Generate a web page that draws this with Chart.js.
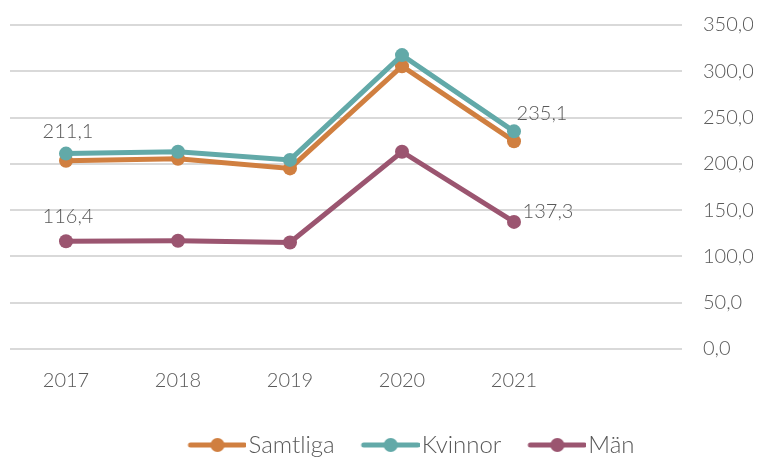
<!DOCTYPE html>
<html><head><meta charset="utf-8">
<script src="https://cdn.jsdelivr.net/npm/chart.js@4/dist/chart.umd.min.js"></script>
<style>html,body{margin:0;padding:0;background:#fff}#wrap{width:766px;height:457px}</style>
</head><body><div id="wrap"><canvas id="c" width="766" height="457"></canvas></div>
<script>
const categories = ["2017", "2018", "2019", "2020", "2021", ""];
const samtliga = [203.4, 205.5, 195.1, 305.5, 224.5];
const kvinnor = [211.1, 213.1, 204.3, 317.5, 235.1];
const man = [116.4, 117.0, 115.0, 213.1, 137.3];
const seriesNames = ["Samtliga", "Kvinnor", "Män"];
const yTickMin = 0, yTickMax = 350, yTickStep = 50;
// values shown as data labels: [series index, category index]
const labelledPoints = [[1, 0], [2, 0], [1, 4], [2, 4]];

const colors = ["#D07F40", "#62A9A8", "#9B5570"];
const textColor = "#595959";
const FONT = "Lato, 'Open Sans', sans-serif";

function legendImage(color) {
  const c = document.createElement('canvas');
  c.width = 68; c.height = 16;
  const g = c.getContext('2d');
  g.strokeStyle = color; g.lineWidth = 5; g.lineCap = 'round';
  g.beginPath(); g.moveTo(12, 8); g.lineTo(66, 8); g.stroke();
  g.fillStyle = color; g.beginPath(); g.arc(39, 8, 7, 0, Math.PI * 2); g.fill();
  return c;
}
const fmt = v => v.toFixed(1).replace('.', ',');

const labelOffsets = {"1,0": [2, -22], "2,0": [2, -25], "1,4": [28, -18], "2,4": [34, -10]};
const dataLabelPlugin = {
  id: 'dataLabels',
  afterLayout(chart) {
    if (chart.legend) { chart.legend.left += 30; chart.legend.right += 30; }
  },
  afterDatasetsDraw(chart) {
    const ctx = chart.ctx;
    ctx.save();
    ctx.font = "300 20px " + FONT;
    ctx.fillStyle = textColor;
    ctx.textAlign = 'center';
    ctx.textBaseline = 'middle';
    labelledPoints.forEach(([s, i]) => {
      const pt = chart.getDatasetMeta(s).data[i];
      const off = labelOffsets[s + "," + i];
      ctx.fillText(fmt(chart.data.datasets[s].data[i]), pt.x + off[0], pt.y + off[1]);
    });
    ctx.restore();
  }
};

const seriesData = [samtliga, kvinnor, man];
const orders = [1, 0, 2];
new Chart(document.getElementById('c'), {
  type: 'line',
  data: {
    labels: categories,
    datasets: seriesNames.map((n, k) => ({
      label: n,
      data: seriesData[k],
      borderColor: colors[k],
      backgroundColor: colors[k],
      pointBackgroundColor: colors[k],
      pointBorderWidth: 0,
      borderWidth: 5,
      pointRadius: 7,
      pointHoverRadius: 7,
      tension: 0,
      order: orders[k],
      legendImg: legendImage(colors[k])
    }))
  },
  options: {
    responsive: false,
    devicePixelRatio: 1,
    animation: false,
    layout: { autoPadding: false, padding: { left: 10, right: 13, top: 25, bottom: -10 } },
    plugins: {
      tooltip: { enabled: false },
      legend: {
        position: 'bottom',
        labels: {
          usePointStyle: true,
          pointStyleWidth: 48,
          boxHeight: 14,
          padding: 27,
          color: textColor,
          font: { family: FONT, size: 24, weight: 300 },
          generateLabels(chart) {
            return chart.data.datasets.map((ds, i) => ({
              text: ds.label,
              pointStyle: ds.legendImg,
              fillStyle: ds.borderColor,
              strokeStyle: ds.borderColor,
              lineWidth: 0,
              fontColor: textColor,
              hidden: false,
              datasetIndex: i
            }));
          }
        }
      }
    },
    scales: {
      x: {
        offset: true,
        afterFit(scale) { scale.height -= 7; },
        grid: { display: false, drawTicks: false },
        border: { display: false },
        ticks: { color: textColor, font: { family: FONT, size: 20, weight: 300 }, padding: 20, maxRotation: 0 }
      },
      y: {
        position: 'right',
        min: yTickMin, max: yTickMax,
        afterFit(scale) { scale.width = 71; scale.paddingTop = 0; scale.paddingBottom = 0; },
        grid: { color: '#d9d9d9', lineWidth: 2, drawTicks: false },
        border: { display: false },
        ticks: {
          stepSize: yTickStep,
          color: textColor,
          padding: 21,
          font: { family: FONT, size: 20, weight: 300 },
          callback: v => fmt(v)
        }
      }
    }
  },
  plugins: [dataLabelPlugin]
});
</script></body></html>
